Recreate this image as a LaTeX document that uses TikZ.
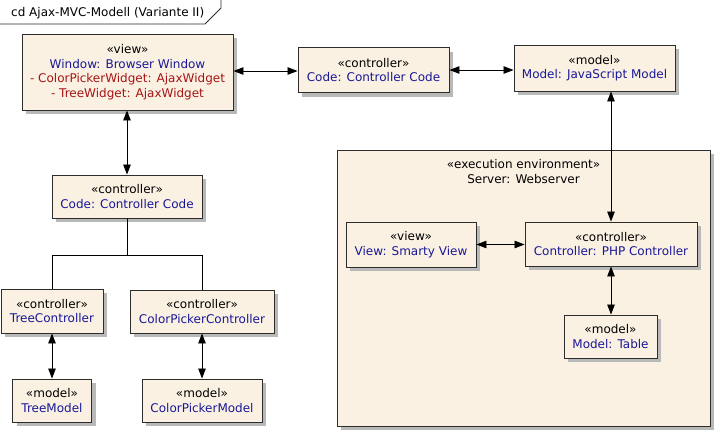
\documentclass[tikz,border=0pt]{standalone}
\usepackage{fontspec}
\setmainfont{DejaVu Sans}
\usetikzlibrary{arrows.meta,shadows}
\definecolor{boxfill}{RGB}{251,241,227}
\definecolor{boxline}{RGB}{45,45,45}
\definecolor{navy}{RGB}{24,24,150}
\definecolor{dred}{RGB}{165,20,20}
\definecolor{shadowgray}{RGB}{185,185,185}
\tikzset{
  umlbox/.style={draw=boxline, line width=0.9pt, fill=boxfill, align=center,
    inner sep=0pt, font=\fontsize{12}{14.5}\selectfont,
    drop shadow={shadow xshift=4pt, shadow yshift=-4pt, fill=shadowgray, opacity=1}},
  link/.style={draw=black, line width=0.8pt},
  both/.style={link, {Triangle[length=10pt,width=7.5pt]}-{Triangle[length=10pt,width=7.5pt]}},
}
\newcommand{\nm}[1]{\textcolor{navy}{#1}}
\newcommand{\rd}[1]{\textcolor{dred}{#1}}
\begin{document}
\begin{tikzpicture}[x=1pt,y=-1pt]
\useasboundingbox (0,0) rectangle (715,434);
\fill[white] (0,0) rectangle (715,434);
% title tab
\draw[boxline, line width=0.9pt] (0,24) -- (205,24) -- (221,8) -- (221,0);
\node[anchor=west, inner sep=0pt, font=\fontsize{12}{14.5}\selectfont] (title) at (11,13) {cd Ajax-MVC-Modell (Variante II)};
% execution environment
\node[umlbox, minimum width=373pt, minimum height=276pt] (env) at (523.5,288) {};
\node[align=center, inner sep=0pt, font=\fontsize{12}{14.5}\selectfont] (envlabel) at (523.5,171.5) {«execution environment»\\Server: Webserver};
% nodes
\node[umlbox, minimum width=211pt, minimum height=76pt] (view) at (127.5,72)
  {«view»\\\nm{Window: Browser Window}\\\rd{- ColorPickerWidget: AjaxWidget}\\\rd{- TreeWidget: AjaxWidget}};
\node[umlbox, minimum width=151pt, minimum height=45pt] (ctrltop) at (373.5,70)
  {«controller»\\\nm{Code: Controller Code}};
\node[umlbox, minimum width=161pt, minimum height=46pt] (modeljs) at (594.5,68)
  {«model»\\\nm{Model: JavaScript Model}};
\node[umlbox, minimum width=130pt, minimum height=45pt] (smarty) at (411,244.5)
  {«view»\\\nm{View: Smarty View}};
\node[umlbox, minimum width=172pt, minimum height=44pt] (php) at (611,244)
  {«controller»\\\nm{Controller: PHP Controller}};
\node[umlbox, minimum width=93pt, minimum height=43pt] (table) at (610.5,336.5)
  {«model»\\\nm{Model: Table}};
\node[umlbox, minimum width=150pt, minimum height=43pt] (codel) at (127,196.5)
  {«controller»\\\nm{Code: Controller Code}};
\node[umlbox, minimum width=102pt, minimum height=44pt] (treec) at (52,311)
  {«controller»\\\nm{TreeController}};
\node[umlbox, minimum width=144pt, minimum height=43pt] (cpc) at (202,311.5)
  {«controller»\\\nm{ColorPickerController}};
\node[umlbox, minimum width=79pt, minimum height=43pt] (treem) at (52,400.5)
  {«model»\\\nm{TreeModel}};
\node[umlbox, minimum width=120pt, minimum height=43pt] (cpm) at (202,400.5)
  {«model»\\\nm{ColorPickerModel}};
% connectors
\coordinate (j) at (127,255);
\draw[both] (view.east |- 0,71) -- (ctrltop.west |- 0,71);
\draw[both] (ctrltop.east |- 0,70) -- (modeljs.west |- 0,70);
\draw[both] (view.south -| codel.north) -- (codel.north);
\draw[link] (codel.south) -- (j);
\draw[link] (j) -| (treec.north);
\draw[link] (j) -| (cpc.north);
\draw[both] (treec.south) -- (treec.south |- treem.north);
\draw[both] (cpc.south) -- (cpc.south |- cpm.north);
\draw[both] (php.north |- modeljs.south) -- (php.north);
\draw[both] (smarty.east) -- (smarty.east -| php.west);
\draw[both] (php.south) -- (php.south |- table.north);
\end{tikzpicture}
\end{document}
